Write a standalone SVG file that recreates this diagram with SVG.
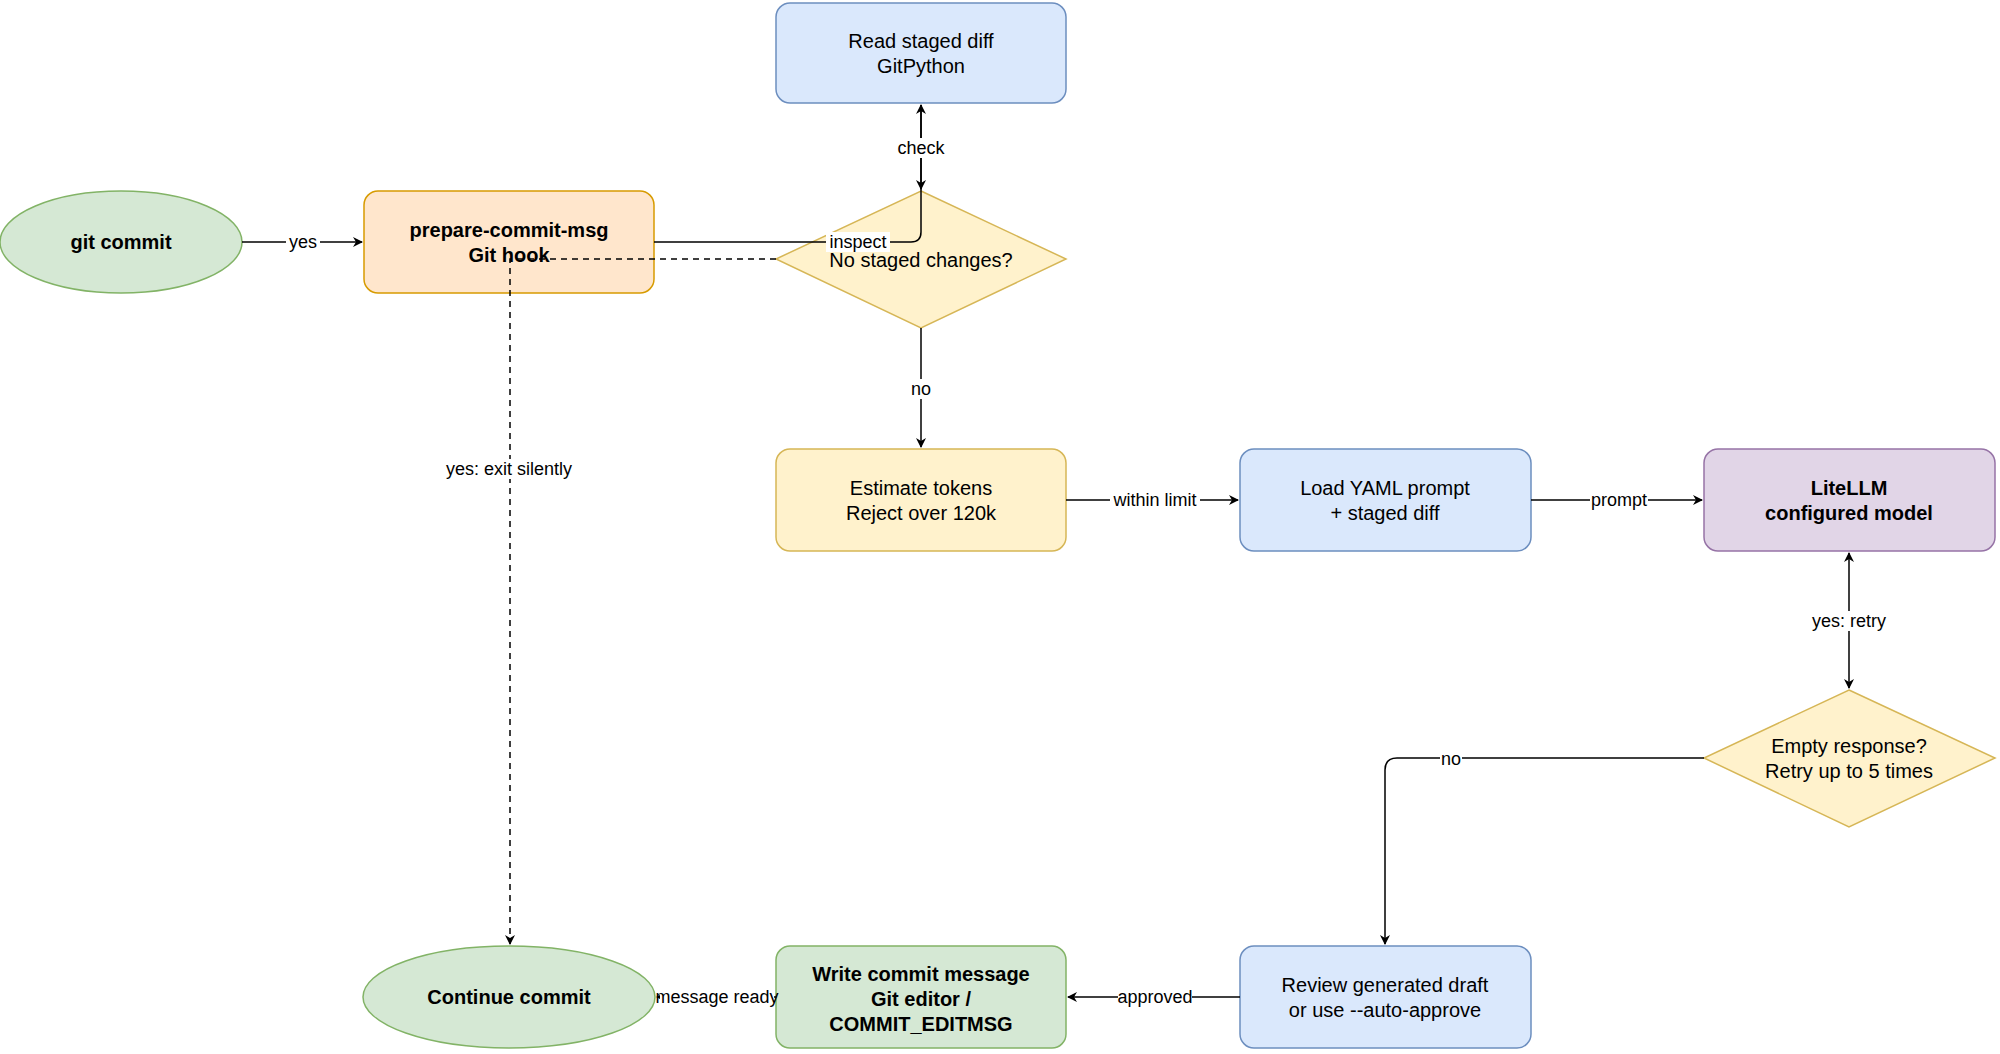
<svg xmlns="http://www.w3.org/2000/svg" width="2000" height="1054" viewBox="0 0 2000 1054">
<defs>
<marker id="a" viewBox="0 0 10 10" refX="9" refY="5" markerWidth="10" markerHeight="10" markerUnits="userSpaceOnUse" orient="auto-start-reverse"><path d="M0,0 L10,5 L0,10 L3,5 Z" fill="#000"/></marker>
<style>
text{font-family:"Liberation Sans",Arial,sans-serif;font-size:20px;text-anchor:middle;fill:#000}
.b{font-weight:bold}
.l{font-size:18px}
.g{fill:#d5e8d4;stroke:#82b366;stroke-width:1.5}
.o{fill:#ffe6cc;stroke:#d79b00;stroke-width:1.5}
.bl{fill:#dae8fc;stroke:#6c8ebf;stroke-width:1.5}
.y{fill:#fff2cc;stroke:#d6b656;stroke-width:1.5}
.p{fill:#e1d5e7;stroke:#9673a6;stroke-width:1.5}
.c{fill:none;stroke:#000;stroke-width:1.5}
.lb{fill:#fff}
</style>
</defs>
<rect width="2000" height="1054" fill="#fff"/>
<g id="n-git"><ellipse class="g" cx="121" cy="242" rx="121" ry="51"/><text class="b" x="121" y="249">git commit</text></g>
<g id="n-hook"><rect class="o" x="364" y="191" width="290" height="102" rx="14"/><text class="b" x="509" y="237">prepare-commit-msg</text><text class="b" x="509" y="262">Git hook</text></g>
<g id="n-read"><rect class="bl" x="776" y="3" width="290" height="100" rx="14"/><text x="921" y="48">Read staged diff</text><text x="921" y="73">GitPython</text></g>
<g id="n-dia"><polygon class="y" points="921,191 1066,259 921,328 776,259"/><text x="921" y="267">No staged changes?</text></g>
<g id="n-est"><rect class="y" x="776" y="449" width="290" height="102" rx="14"/><text x="921" y="495">Estimate tokens</text><text x="921" y="520">Reject over 120k</text></g>
<g id="n-load"><rect class="bl" x="1240" y="449" width="291" height="102" rx="14"/><text x="1385" y="495">Load YAML prompt</text><text x="1385" y="520">+ staged diff</text></g>
<g id="n-llm"><rect class="p" x="1704" y="449" width="291" height="102" rx="14"/><text class="b" x="1849" y="495">LiteLLM</text><text class="b" x="1849" y="520">configured model</text></g>
<g id="n-empty"><polygon class="y" points="1849,690 1995,758 1849,827 1704,758"/><text x="1849" y="753">Empty response?</text><text x="1849" y="778">Retry up to 5 times</text></g>
<g id="n-review"><rect class="bl" x="1240" y="946" width="291" height="102" rx="14"/><text x="1385" y="992">Review generated draft</text><text x="1385" y="1017">or use --auto-approve</text></g>
<g id="n-write"><rect class="g" x="776" y="946" width="290" height="102" rx="14"/><text class="b" x="921" y="981">Write commit message</text><text class="b" x="921" y="1006">Git editor /</text><text class="b" x="921" y="1031">COMMIT_EDITMSG</text></g>
<g id="n-cont"><ellipse class="g" cx="509" cy="997" rx="146" ry="51"/><text class="b" x="509" y="1004">Continue commit</text></g>
<g id="connectors">
<path class="c" d="M242,242 H362" marker-end="url(#a)"/>
<rect class="lb" x="286" y="232" width="34" height="20"/><text class="l" x="303" y="248">yes</text>
<path class="c" d="M654,242 H911 Q921,242 921,232 V105" marker-end="url(#a)"/>
<path class="c" d="M921,105 V189" marker-end="url(#a)"/>
<rect class="lb" x="896" y="138" width="50" height="20"/><text class="l" x="921" y="154">check</text>
<rect class="lb" x="826" y="232" width="64" height="20"/><text class="l" x="858" y="248">inspect</text>
<path class="c" d="M776,259 H510 V944" stroke-dasharray="6,5" marker-end="url(#a)"/>
<rect class="lb" x="440" y="459" width="138" height="20"/><text class="l" x="509" y="475">yes: exit silently</text>
<path class="c" d="M921,328 V447" marker-end="url(#a)"/>
<rect class="lb" x="910" y="379" width="22" height="20"/><text class="l" x="921" y="395">no</text>
<path class="c" d="M1066,500 H1238" marker-end="url(#a)"/>
<rect class="lb" x="1110" y="490" width="90" height="20"/><text class="l" x="1155" y="506">within limit</text>
<path class="c" d="M1531,500 H1702" marker-end="url(#a)"/>
<rect class="lb" x="1590" y="490" width="58" height="20"/><text class="l" x="1619" y="506">prompt</text>
<path class="c" d="M1849,553 V688" marker-start="url(#a)" marker-end="url(#a)"/>
<rect class="lb" x="1810" y="611" width="78" height="20"/><text class="l" x="1849" y="627">yes: retry</text>
<path class="c" d="M1704,758 H1397 Q1385,758 1385,770 V944" marker-end="url(#a)"/>
<rect class="lb" x="1440" y="749" width="22" height="20"/><text class="l" x="1451" y="765">no</text>
<path class="c" d="M1240,997 H1068" marker-end="url(#a)"/>
<rect class="lb" x="1118" y="987" width="74" height="20"/><text class="l" x="1155" y="1003">approved</text>
<path class="c" d="M776,997 H657" marker-end="url(#a)"/>
<rect class="lb" x="660" y="987" width="114" height="20"/><text class="l" x="717" y="1003">message ready</text>
</g>
</svg>
